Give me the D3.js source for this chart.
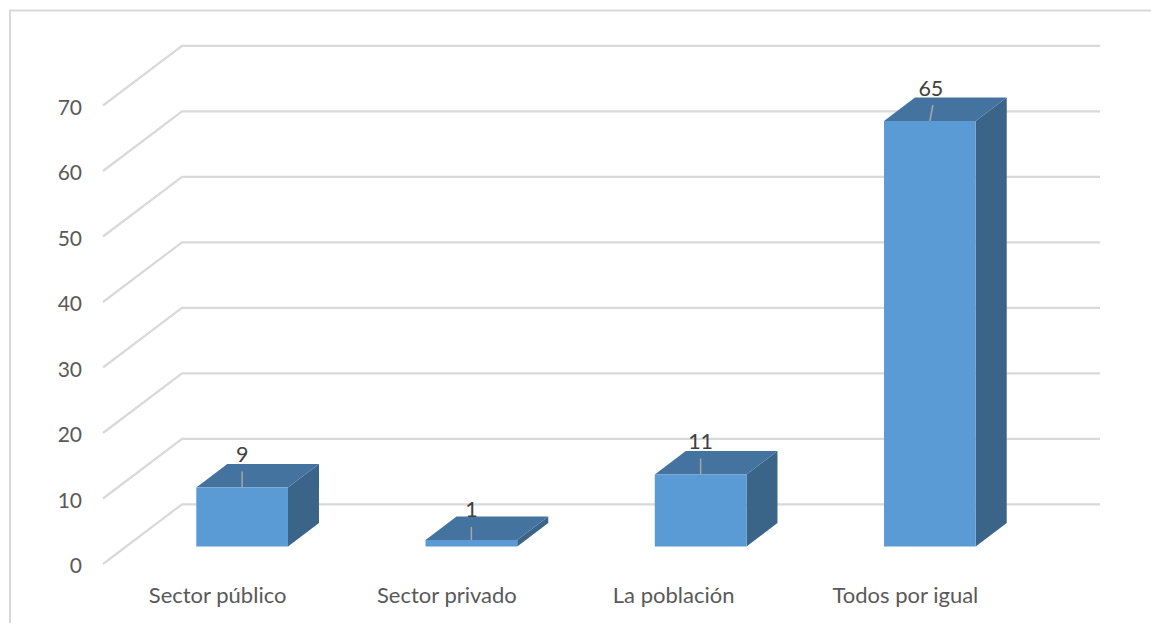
<!DOCTYPE html>
<html><head><meta charset="utf-8">
<script src="https://cdn.jsdelivr.net/npm/d3@7"></script>
<style>html,body{margin:0;padding:0;background:#fff}svg{display:block}text{font-family:"Lato",sans-serif}</style>
</head><body><div id="c"></div>
<script>
const categories = ["Sector público","Sector privado","La población","Todos por igual"];
const values = [9,1,11,65];
const yTicks = [0,10,20,30,40,50,60,70];

const W=1151,H=623;
const svg=d3.select("#c").append("svg").attr("width",W).attr("height",H);
const grid="#d9d9d9";
const yFront=d3.scaleLinear().domain([0,70]).range([564,105.5]);
const wallDx=79, wallDy=-59.7, wallRight=1100;
const x=d3.scaleBand().domain(categories).range([127.5,1044.5]).paddingInner(0.6).paddingOuter(0.3);
const yBar=d3.scaleLinear().domain([0,65]).range([546.5,121]);
const depthX=31, depthY=-23.5;

// frame
svg.append("path").attr("d",`M10,${H}V10.5H${W}`).attr("fill","none").attr("stroke",grid).attr("stroke-width",2);

// gridlines
svg.append("g").selectAll("path").data(yTicks).join("path")
  .attr("d",v=>`M${103},${yFront(v)}L${103+wallDx},${yFront(v)+wallDy}H${wallRight}`)
  .attr("fill","none").attr("stroke",grid).attr("stroke-width",2.2);

// y labels
svg.append("g").selectAll("text").data(yTicks).join("text")
  .attr("x",82).attr("y",v=>yFront(v)+1.5).attr("dy","0.36em").attr("text-anchor","end")
  .attr("font-size",21).attr("fill","#595959").text(d=>d);

// bars
const bars=svg.append("g").selectAll("g").data(categories.map((c,i)=>({c,v:values[i]}))).join("g");
const xc=d=>x(d.c)+x.bandwidth()/2;
bars.append("path").attr("fill","#3a6488")
  .attr("d",d=>{const r=x(d.c)+x.bandwidth(),b=yBar(0),t=yBar(d.v);return `M${r},${b}L${r+depthX},${b+depthY}V${t+depthY}L${r},${t}Z`;});
bars.append("path").attr("fill","#44739f")
  .attr("d",d=>{const l=x(d.c),r=l+x.bandwidth(),t=yBar(d.v);return `M${l},${t}L${l+depthX},${t+depthY}H${r+depthX}L${r},${t}Z`;});
bars.append("rect").attr("fill","#5b9bd5")
  .attr("x",d=>x(d.c)).attr("width",x.bandwidth())
  .attr("y",d=>yBar(d.v)).attr("height",d=>yBar(0)-yBar(d.v));
// leader lines
bars.append("line").attr("stroke","#a6a6a6").attr("stroke-width",1.5)
  .attr("x1",d=>xc(d)).attr("y1",d=>yBar(d.v))
  .attr("x2",d=>xc(d)+(d.v>60?3:0)).attr("y2",d=>yBar(d.v)-(d.v===1?13:16));
// value labels
bars.append("text").attr("text-anchor","middle").attr("font-size",21.5).attr("fill","#404040")
  .attr("x",d=>xc(d)+(d.v>60?1:0)).attr("y",d=>yBar(d.v)+depthY-(d.v===1?-0.5:2)).text(d=>d.v);

// category labels
svg.append("g").selectAll("text").data(categories).join("text")
  .attr("x",d=>xc({c:d})-(d==="La población"?27:24.5)).attr("y",603).attr("text-anchor","middle")
  .attr("font-size",22).attr("fill","#595959").text(d=>d);
</script></body></html>
